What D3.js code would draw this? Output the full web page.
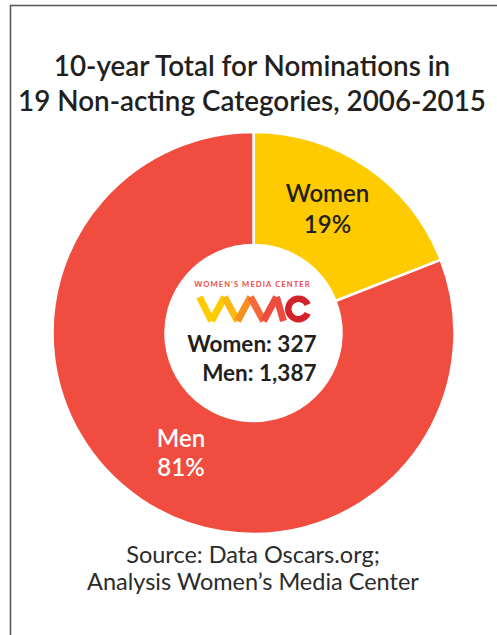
<!DOCTYPE html>
<html>
<head>
<meta charset="utf-8">
<script src="https://cdn.jsdelivr.net/npm/d3@7"></script>
<style>
  body { margin: 0; background: #fff; }
  text { font-family: Lato, "Open Sans", sans-serif; }
</style>
</head>
<body>
<div id="chart"></div>
<script>
// data
var categories = ["Women", "Men"];
var counts = [327, 1387];
var percents = ["19%", "81%"];
var colors = ["#fecb00", "#f04d40"];

var width = 497;
var height = 635;
var cx = 253.5, cy = 333;
var outerR = 201, innerR = 88;

var svg = d3.select("#chart").append("svg")
    .attr("width", width)
    .attr("height", height);

// frame
svg.append("path")
    .attr("d", "M10.5,635 L10.5,5.5 L497,5.5")
    .attr("fill", "none")
    .attr("stroke", "#555")
    .attr("stroke-width", 1.5);

// title
var title = ["10-year Total for Nominations in", "19 Non-acting Categories, 2006-2015"];
svg.selectAll(".title").data(title).enter().append("text")
    .attr("x", 252)
    .attr("y", function(d, i) { return 76 + i * 35; })
    .attr("text-anchor", "middle")
    .attr("font-size", 27.8)
    .attr("font-weight", 600)
    .attr("fill", "#231f20")
    .text(function(d) { return d; });

//
// Donut
//
var pie = d3.pie().sort(null).value(function(d) { return d; });
var arc = d3.arc().innerRadius(innerR).outerRadius(outerR);
var arcs = pie(counts);

var g = svg.append("g").attr("transform", "translate(" + cx + "," + cy + ")");

g.selectAll("path.slice").data(arcs).enter().append("path")
    .attr("class", "slice")
    .attr("d", arc)
    .attr("fill", function(d, i) { return colors[i]; })
    .attr("stroke", "#fff")
    .attr("stroke-width", 2.5);

// slice labels
var labelPos = [[74, -131, 31], [-72.5, 114, 28.5]];
var labelColor = ["#231f20", "#fff"];
arcs.forEach(function(d, i) {
    var t = g.append("text")
        .attr("text-anchor", "middle")
        .attr("font-size", 24)
        .attr("font-weight", 600)
        .attr("fill", labelColor[i]);
    t.append("tspan").attr("x", labelPos[i][0]).attr("y", labelPos[i][1]).text(categories[i]);
    t.append("tspan").attr("x", labelPos[i][0]).attr("y", labelPos[i][1] + labelPos[i][2]).text(percents[i]);
});

// center totals
var fmt = d3.format(",");
g.selectAll(".total").data(categories).enter().append("text")
    .attr("x", 63)
    .attr("y", function(d, i) { return 19 + i * 29; })
    .attr("text-anchor", "end")
    .attr("font-size", 22.5)
    .attr("font-weight", 700)
    .attr("fill", "#231f20")
    .text(function(d, i) { return d + ": " + fmt(counts[i]); });

// WMC logo
var logo = g.append("g").attr("transform", "translate(-56,-46)");
logo.append("text")
    .attr("x", 55)
    .attr("y", 0)
    .attr("text-anchor", "middle")
    .attr("font-size", 7.6)
    .attr("font-weight", 700)
    .attr("letter-spacing", 1.1)
    .attr("fill", "#ef4b3f")
    .text("WOMEN\u2019S MEDIA CENTER");

var zig = [[2, 10], [14, 34], [27, 10], [40, 34], [53, 10], [66, 34], [79, 10]];
var zigColors = ["#fecb00", "#fecb00", "#fdb913", "#f7901e", "#f26a36", "#ef4b3f"];
for (var k = 0; k < zig.length - 1; k++) {
    logo.append("line")
        .attr("x1", zig[k][0]).attr("y1", zig[k][1])
        .attr("x2", zig[k + 1][0]).attr("y2", zig[k + 1][1])
        .attr("stroke", zigColors[k])
        .attr("stroke-width", 7)
        .attr("stroke-linecap", "butt");
}
logo.append("path")
    .attr("d", d3.arc()({innerRadius: 7, outerRadius: 13.5, startAngle: 0.45, endAngle: 2 * Math.PI - 0.45}))
    .attr("transform", "translate(101,22) rotate(90)")
    .attr("fill", "#d2232a");
logo.append("path")
    .attr("d", "M79,10 L86,34")
    .attr("stroke", "#ef4b3f")
    .attr("stroke-width", 7);

// source
var source = ["Source: Data Oscars.org;", "Analysis Women\u2019s Media Center"];
svg.selectAll(".source").data(source).enter().append("text")
    .attr("x", 253)
    .attr("y", function(d, i) { return 563 + i * 27; })
    .attr("text-anchor", "middle")
    .attr("font-size", 23.5)
    .attr("font-weight", 400)
    .attr("fill", "#2b2b2b")
    .text(function(d) { return d; });
</script>
</body>
</html>
